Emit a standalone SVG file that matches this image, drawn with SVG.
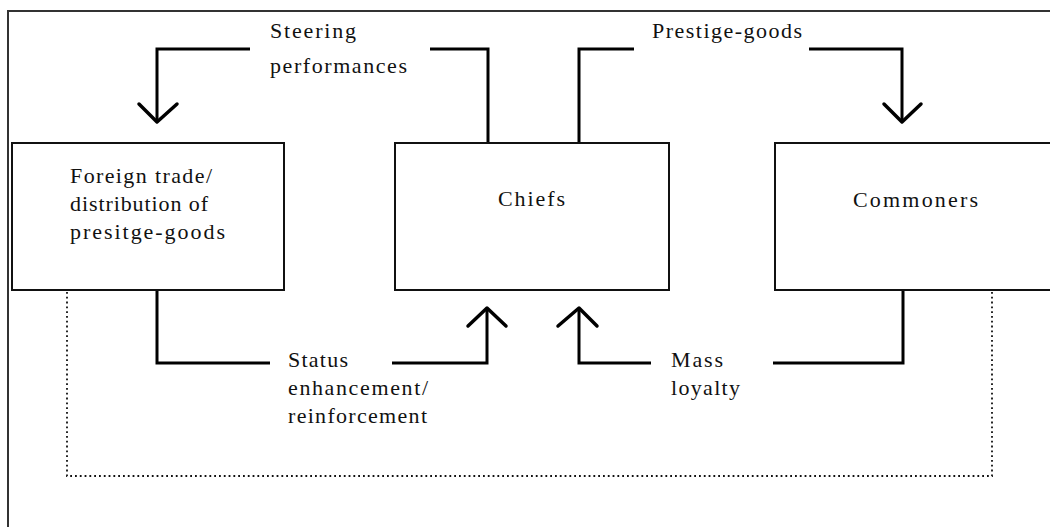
<svg xmlns="http://www.w3.org/2000/svg" width="1050" height="527" viewBox="0 0 1050 527">
<style>
.frame{fill:none;stroke:#333;stroke-width:2}
.box{fill:#fff;stroke:#111;stroke-width:2}
.conn{fill:none;stroke:#000;stroke-width:3;stroke-linejoin:miter}
.head{fill:none;stroke:#000;stroke-width:3.5;stroke-linecap:round;stroke-linejoin:round}
.dot{fill:none;stroke:#111;stroke-width:1.8;stroke-dasharray:1.8 3}
text{font-family:"Liberation Serif","Times New Roman",serif;font-size:22px;fill:#111}
</style>
<rect width="1050" height="527" fill="#fff"/>
<rect class="frame" x="8" y="11" width="1100" height="600"/>
<g id="connectors">
<polyline class="conn" points="488,143 488,49 430,49"/>
<polyline class="conn" points="250,49 157,49 157,121"/>
<polyline class="head" points="139,104 157,122 177,104"/>
<polyline class="conn" points="579,143 579,49 634,49"/>
<polyline class="conn" points="809,49 902,49 902,121"/>
<polyline class="head" points="884,104 902,122 921,104"/>
<polyline class="conn" points="157,290 157,363 270,363"/>
<polyline class="conn" points="392,363 487,363 487,309"/>
<polyline class="head" points="468,326 487,308 506,326"/>
<polyline class="conn" points="903,290 903,363 773,363"/>
<polyline class="conn" points="651,363 579,363 579,309"/>
<polyline class="head" points="558,326 579,308 597,326"/>
<polyline class="dot" points="67,292 67,476 992,476 992,292"/>
<text x="270" y="38" textLength="86" lengthAdjust="spacing">Steering</text>
<text x="270" y="73" textLength="137" lengthAdjust="spacing">performances</text>
<text x="652" y="38" textLength="150" lengthAdjust="spacing">Prestige-goods</text>
<text x="288" y="367" textLength="60" lengthAdjust="spacing">Status</text>
<text x="288" y="395" textLength="140" lengthAdjust="spacing">enhancement/</text>
<text x="288" y="423" textLength="139" lengthAdjust="spacing">reinforcement</text>
<text x="671" y="367" textLength="52" lengthAdjust="spacing">Mass</text>
<text x="671" y="395" textLength="69" lengthAdjust="spacing">loyalty</text>
</g>
<g id="node-foreign-trade">
<rect class="box" x="12" y="143" width="272" height="147"/>
<text x="70" y="183" textLength="142" lengthAdjust="spacing">Foreign trade/</text>
<text x="70" y="211" textLength="138" lengthAdjust="spacing">distribution of</text>
<text x="70" y="239" textLength="155" lengthAdjust="spacing">presitge-goods</text>
</g>
<g id="node-chiefs">
<rect class="box" x="395" y="143" width="274" height="147"/>
<text x="498" y="206" textLength="67" lengthAdjust="spacing">Chiefs</text>
</g>
<g id="node-commoners">
<rect class="box" x="775" y="143" width="300" height="147"/>
<text x="853" y="207" textLength="125" lengthAdjust="spacing">Commoners</text>
</g>
</svg>
